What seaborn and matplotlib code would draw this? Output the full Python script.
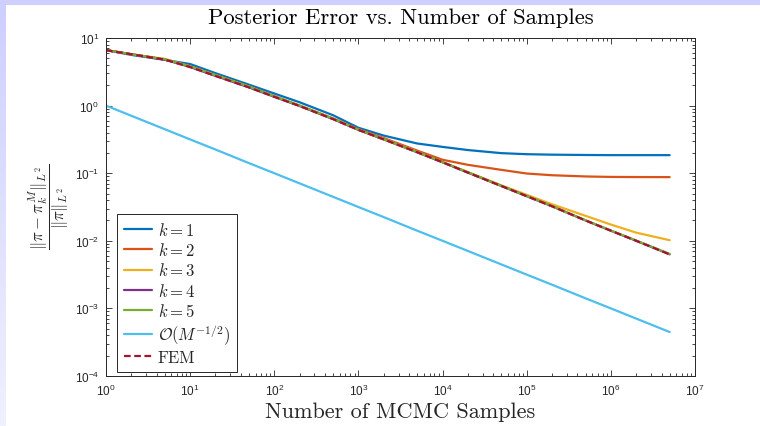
import numpy as np
import pandas as pd
import seaborn as sns
import matplotlib
matplotlib.use("Agg")
import matplotlib.pyplot as plt
from matplotlib.patches import Rectangle
from matplotlib.ticker import LogLocator, NullFormatter

# ---------------- data ----------------
samples = [1, 2, 5, 10, 20, 50, 100, 200, 500, 1e3, 2e3, 5e3, 1e4, 2e4,
           5e4, 1e5, 2e5, 5e5, 1e6, 2e6, 5e6]

err_k1 = [6.61, 5.62, 4.75, 4.12, 3.02, 2.04, 1.51, 1.12, 0.72, 0.47, 0.36,
          0.275, 0.245, 0.220, 0.198, 0.191, 0.188, 0.186, 0.185, 0.185, 0.185]
err_k2 = [6.61, 5.75, 4.79, 3.80, 2.82, 1.91, 1.38, 1.00, 0.646, 0.447, 0.331,
          0.216, 0.158, 0.133, 0.112, 0.0989, 0.0933, 0.0895, 0.0881, 0.0877, 0.0875]
err_k3 = [6.61, 5.75, 4.90, 3.80, 2.82, 1.91, 1.36, 1.00, 0.638, 0.442, 0.320,
          0.207, 0.146, 0.104, 0.0661, 0.0479, 0.0347, 0.0234, 0.0174, 0.0132, 0.0102]
err_k4 = [6.61, 5.75, 4.79, 3.72, 2.75, 1.86, 1.35, 0.986, 0.631, 0.437, 0.316,
          0.204, 0.145, 0.102, 0.0646, 0.0457, 0.0324, 0.0200, 0.0141, 0.0100, 0.0063]
err_k5 = [6.61, 5.75, 4.85, 3.80, 2.82, 1.91, 1.37, 1.00, 0.640, 0.440, 0.318,
          0.205, 0.146, 0.103, 0.0650, 0.0460, 0.0326, 0.0201, 0.0142, 0.0101, 0.0064]
err_rate = [1.0, 0.707, 0.447, 0.316, 0.224, 0.141, 0.1, 0.0707, 0.0447, 0.0316,
            0.0224, 0.0141, 0.01, 0.00707, 0.00447, 0.00316, 0.00224, 0.00141,
            0.001, 0.000707, 0.000447]
err_fem = [6.61, 5.75, 4.79, 3.72, 2.75, 1.86, 1.35, 0.986, 0.631, 0.437, 0.316,
           0.204, 0.145, 0.102, 0.0646, 0.0457, 0.0324, 0.0200, 0.0141, 0.0100, 0.0063]

labels = [r"$k=1$", r"$k=2$", r"$k=3$", r"$k=4$", r"$k=5$",
          r"$\mathcal{O}(M^{-1/2})$", "FEM"]
colors = ["#0072BD", "#D95319", "#EDB120", "#7E2F8E", "#77AC30", "#4DBEEE", "#A2142F"]
series = [err_k1, err_k2, err_k3, err_k4, err_k5, err_rate, err_fem]

# ---------------- style ----------------
sns.set_theme(style="ticks")
plt.rcParams["font.family"] = ["Liberation Sans", "DejaVu Sans"]
plt.rcParams["mathtext.fontset"] = "cm"

W, H = 760, 427
fig = plt.figure(figsize=(W / 100, H / 100), dpi=100)
fig.patch.set_facecolor("white")

# slide-like lavender border
fig.add_artist(Rectangle((0, 1 - 6 / H), 1, 6 / H, transform=fig.transFigure,
                         facecolor="#cfcfff", edgecolor="none", zorder=0))
bax = fig.add_axes([0, 0, 6 / W, 1 - 6 / H])
c_top = np.array([0xcf, 0xcf, 0xff]) / 255
c_bot = np.array([0xf0, 0xf0, 0xff]) / 255
t = np.linspace(0, 1, 200)[:, None]
grad = (c_top[None, :] * (1 - t) + c_bot[None, :] * t)[:, None, :]
bax.imshow(grad, aspect="auto", interpolation="bilinear")
bax.axis("off")

ax = fig.add_axes([106 / W, 1 - 377 / H, 589 / W, 338 / H])

for vals, lab, col in zip(series, labels, colors):
    df = pd.DataFrame({"M": samples, "err": vals})
    sns.lineplot(data=df, x="M", y="err", ax=ax, color=col, linewidth=1.6,
                 label=lab, estimator=None)
fem_line = ax.get_lines()[-1]
fem_line.set_dashes((3, 1.6))

ax.set_xscale("log")
ax.set_yscale("log")
ax.set_xlim(1, 1e7)
ax.set_ylim(1e-4, 10)

ax.xaxis.set_major_locator(LogLocator(base=10, numticks=20))
ax.yaxis.set_major_locator(LogLocator(base=10, numticks=20))
ax.xaxis.set_minor_locator(LogLocator(base=10, subs=np.arange(2, 10), numticks=100))
ax.yaxis.set_minor_locator(LogLocator(base=10, subs=np.arange(2, 10), numticks=100))
ax.xaxis.set_minor_formatter(NullFormatter())
ax.yaxis.set_minor_formatter(NullFormatter())

ax.tick_params(which="both", direction="in", top=True, right=True,
               colors="#262626", width=0.6, labelsize=8.5)
ax.tick_params(which="major", length=4, pad=5)
ax.tick_params(which="minor", length=2)
for s in ax.spines.values():
    s.set_linewidth(0.7)
    s.set_color("#262626")

ax.set_title("Posterior Error vs. Number of Samples", fontfamily="cmr10",
             fontsize=16.3, color="black", pad=11)
ax.set_xlabel("Number of MCMC Samples", fontfamily="cmr10", fontsize=16,
              color="#262626")
ax.xaxis.set_label_coords(0.5, -0.075)
ax.set_ylabel(r"$\dfrac{\|\pi-\pi_k^M\|_{L^2}}{\|\pi\|_{L^2}}$", fontsize=12,
              color="#262626")
ax.yaxis.set_label_coords(-0.06, 0.503)

leg = ax.legend(loc="lower left", bbox_to_anchor=(0.0187, 0.012), borderaxespad=0,
                prop={"family": "cmr10", "size": 12}, frameon=True, fancybox=False,
                edgecolor="#262626", framealpha=1, handlelength=1.7,
                handletextpad=0.35, labelspacing=0.2, borderpad=0.4)
leg.get_frame().set_linewidth(0.7)
for h in leg.get_lines()[-1:]:
    h.set_dashes((3, 1.6))

fig.savefig("out.png", dpi=100)
